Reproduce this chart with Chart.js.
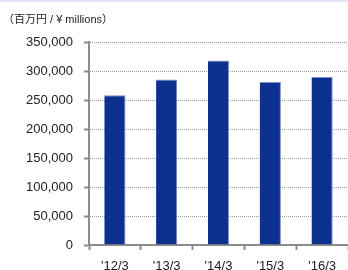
<!DOCTYPE html>
<html>
<head>
<meta charset="utf-8">
<script src="https://cdn.jsdelivr.net/npm/chart.js@4"></script>
<style>
  html, body { margin: 0; padding: 0; background: #fff; }
  #wrap { position: relative; width: 348px; height: 270px; }
  #band { position: absolute; left: 0; top: 0; width: 348px; height: 2px; background: #dfe6f5; }
  #unit { position: absolute; left: 3px; top: 10px; font: 11px "Liberation Sans", Arial, "Noto Sans CJK JP", sans-serif; color: #222; }
  canvas { position: absolute; left: 0; top: 0; }
</style>
</head>
<body>
<div id="wrap">
  <canvas id="salesChart" width="348" height="270"></canvas>
  <div id="band"></div>
  <div id="unit">（百万円 / ¥ millions）</div>
</div>
<script>
// data
const years = ["'12/3", "'13/3", "'14/3", "'15/3", "'16/3"];
const sales = [258000, 285500, 318000, 281000, 289500];
const yTicks = [0, 50000, 100000, 150000, 200000, 250000, 300000, 350000];

document.addEventListener("DOMContentLoaded", function () {
  const ctx = document.getElementById("salesChart").getContext("2d");
  new Chart(ctx, {
    type: "bar",
    data: {
      labels: years,
      datasets: [
        {
          data: sales,
          backgroundColor: "#0b308e",
          borderColor: "#7d90c8",
          borderWidth: { top: 1, right: 1, left: 0, bottom: 0 },
          borderSkipped: false,
          barPercentage: 0.41,
          categoryPercentage: 1,
        },
      ],
    },
    options: {
      responsive: false,
      animation: false,
      layout: { padding: { top: 42, right: 0, left: 0, bottom: 0 } },
      plugins: {
        legend: { display: false },
        tooltip: { enabled: false },
      },
      scales: {
        y: {
          min: 0,
          max: 350000,
          afterBuildTicks: function (scale) {
            scale.ticks = yTicks.map(function (v) { return { value: v }; });
          },
          afterFit: function (scale) { scale.width = 89; },
          ticks: {
            color: "#222",
            font: { family: "Liberation Sans", size: 13 },
            padding: 11,
            callback: function (v) { return v.toLocaleString("en-US"); },
          },
          // in v4 border.dash is what dashes the grid lines
          border: { color: "#8c8c8c", width: 2, dash: [1, 1] },
          grid: {
            color: "#9a9a9a",
            tickColor: "#8c8c8c",
            tickBorderDash: [],
            tickWidth: 2,
            tickLength: 5,
          },
        },
        x: {
          afterFit: function (scale) { scale.height = 25; },
          ticks: {
            color: "#222",
            font: { family: "Liberation Sans", size: 13 },
            padding: 9,
          },
          border: { color: "#8c8c8c", width: 2 },
          grid: {
            offset: true,
            drawOnChartArea: false,
            tickColor: "#8c8c8c",
            tickWidth: 2,
            tickLength: 5,
          },
        },
      },
    },
  });
});
</script>
</body>
</html>
